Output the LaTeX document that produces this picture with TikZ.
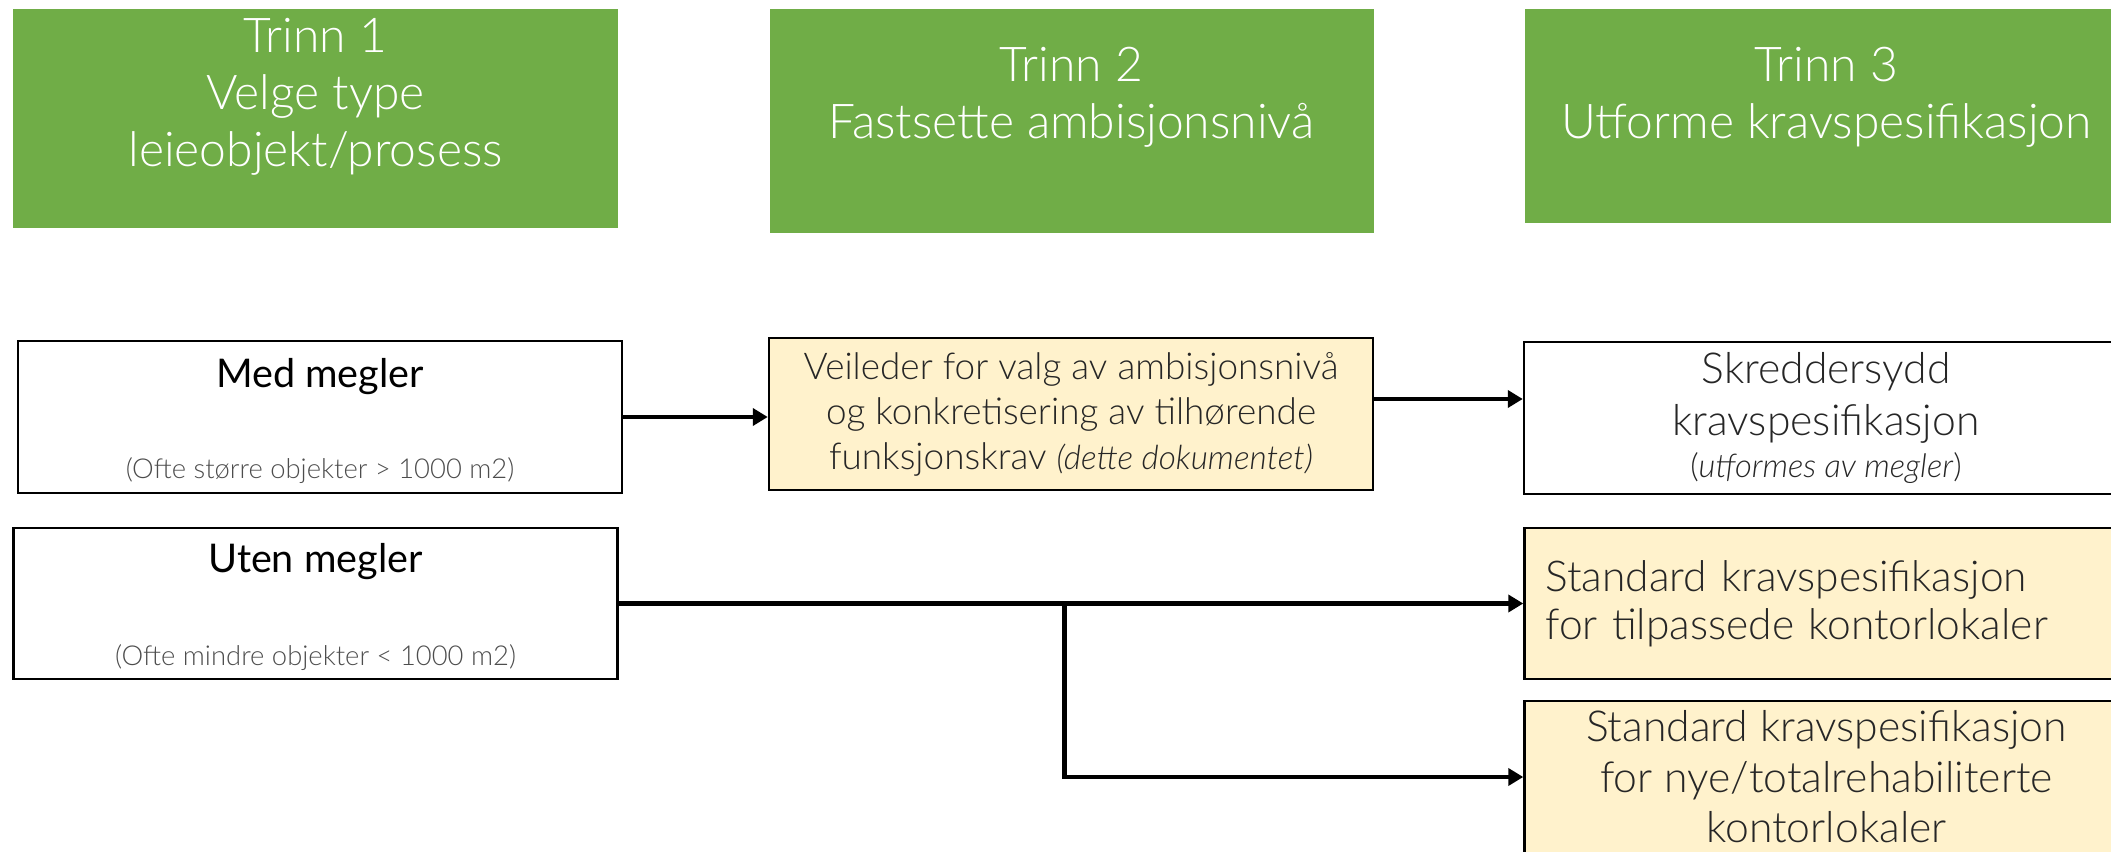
\documentclass[tikz,border=0pt]{standalone}
\usepackage{fontspec}
\setmainfont{Lato Light}
\newfontfamily\regular{Lato}
\usetikzlibrary{arrows.meta}

\definecolor{stagegreen}{HTML}{70AD47}
\definecolor{docyellow}{HTML}{FFF2CC}
\definecolor{darktext}{HTML}{262626}
\definecolor{graytext}{HTML}{4D4D4D}

\tikzset{
  stage/.style={fill=stagegreen, minimum width=12.08cm, inner sep=0pt},
  stagetext/.style={text=white, align=center, inner sep=0pt, font=\fontsize{27.3}{32.5}\selectfont},
  choice/.style={draw, line width=1.4pt, minimum width=12.08cm, minimum height=3.03cm, inner sep=0pt},
  doc/.style={choice, fill=docyellow, text=darktext},
  arr/.style={line width=2.6pt, -{Triangle[length=0.3cm,width=0.34cm]}},
}

\begin{document}
\begin{tikzpicture}
\useasboundingbox (0,0) rectangle (42.22,-17.04);

% stages
\foreach \n/\x/\h/\t in {1/6.31/4.38/{Trinn 1\\Velge type\\leieobjekt/prosess},
  2/21.43/4.48/{Trinn 2\\Fastsette ambisjonsnivå},
  3/36.53/4.28/{Trinn 3\\Utforme kravspesifikasjon}} {
\node[stage, minimum height=\h cm] (stage\n) at (\x,-0.18-\h/2) {};
\node[stagetext] (title\n) at (\x,-1.94) {\t};
}

% trinn 1
\node[choice] (med) at (6.4,-8.34) {};
\node[font=\regular\fontsize{22.5}{26}\selectfont] (medtitle) at ([yshift=0.8cm]med.center) {Med megler};
\node[text=graytext, font=\fontsize{15.6}{18}\selectfont] (medsub) at ([yshift=-1.08cm]med.center) {(Ofte større objekter > 1000 m2)};

\node[choice] (uten) at (6.31,-12.07) {};
\node[font=\regular\fontsize{22.5}{26}\selectfont] (utentitle) at ([yshift=0.83cm]uten.center) {Uten megler};
\node[text=graytext, font=\fontsize{15.6}{18}\selectfont] (utensub) at ([yshift=-1.09cm]uten.center) {(Ofte mindre objekter < 1000 m2)};

% trinn 2
\node[doc, align=center, font=\fontsize{21}{25.6}\selectfont] (veileder) at (21.42,-8.28)
  {Veileder for valg av ambisjonsnivå\\og konkretisering av tilhørende\\funksjonskrav {\fontsize{19}{25.6}\selectfont\itshape(dette dokumentet)}};

% trinn 3
\node[choice, align=center, text=darktext, font=\fontsize{24.3}{29.5}\selectfont] (skredder) at (36.52,-8.36)
  {Skreddersydd\\kravspesifikasjon\\[-0.2cm]{\fontsize{18.6}{22}\selectfont(\textit{utformes av megler})}};
\node[doc, text width=11.24cm, inner xsep=0.42cm, align=left, font=\fontsize{24.2}{27.5}\selectfont] (standard1) at (36.53,-12.07)
  {Standard kravspesifikasjon\\for tilpassede kontorlokaler};
\node[doc, align=center, font=\fontsize{24.3}{28.7}\selectfont] (standard2) at (36.53,-15.54)
  {Standard kravspesifikasjon\\for nye/totalrehabiliterte\\kontorlokaler};

% piler
\draw[arr] (med.east) -- (med.east -| veileder.west);
\draw[arr] ([yshift=0.3cm]veileder.east) -- ([yshift=0.3cm]veileder.east -| skredder.west);
\draw[arr] (uten.east) -- (standard1.west);
\coordinate (split) at ([xshift=8.92cm]uten.east);
\draw[arr] (split) |- (standard2.west);
\end{tikzpicture}
\end{document}
